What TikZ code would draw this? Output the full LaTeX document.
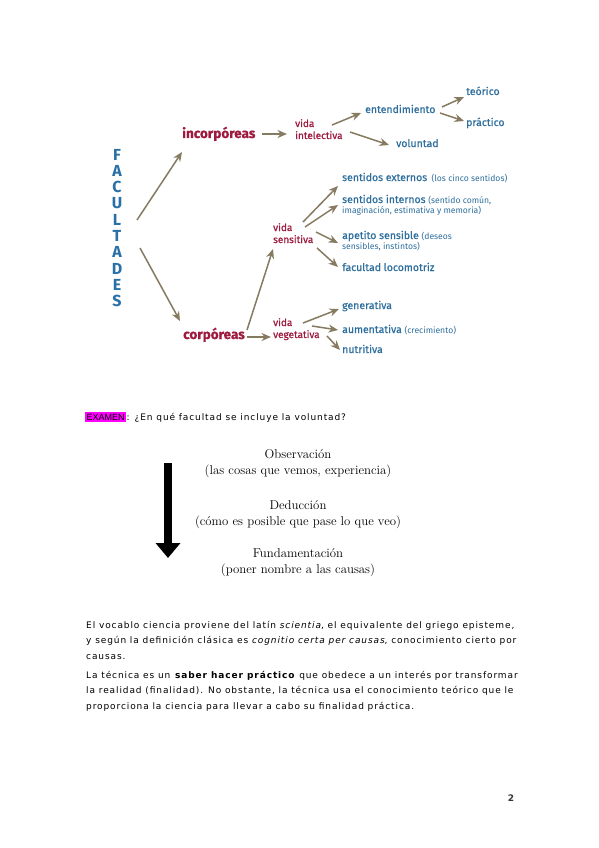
\documentclass[tikz,border=0pt]{standalone}
\usepackage{fontspec}
\usetikzlibrary{arrows.meta}
\newfontfamily\diag{Fira Sans}[FakeBold=0.6]
\newfontfamily\diagl{Fira Sans}
\newfontfamily\bodyf{DejaVu Sans}[LetterSpace=10]
\newfontfamily\arialf{Liberation Sans}
\newfontfamily\pagef{DejaVu Sans}
\definecolor{arrc}{RGB}{134,122,96}
\definecolor{redc}{RGB}{158,26,62}
\definecolor{bluc}{RGB}{46,111,158}
\definecolor{facc}{RGB}{40,112,168}
\definecolor{magc}{RGB}{255,0,255}
\newcommand{\paren}[1]{{\diagl\fontsize{8.6}{10}\selectfont #1}}
\tikzset{
  arr/.style={draw=arrc, line width=1.5pt, -{Stealth[length=9.5pt,width=8pt]}},
  rlab/.style={text=redc, font=\diag\fontsize{10}{12}\selectfont, align=left, inner sep=0pt, anchor=base west},
  rbig/.style={text=redc, font=\diag\bfseries\fontsize{13.5}{14}\selectfont, inner sep=0pt, anchor=base west},
  blab/.style={text=bluc, font=\diag\fontsize{10.5}{10}\selectfont, align=left, inner sep=0pt, anchor=base west},
  fac/.style={text=facc, font=\diagl\bfseries\fontsize{16}{16}\selectfont, inner sep=0pt, anchor=base},
  ser/.style={font=\rmfamily\fontsize{12.8}{16}\selectfont, inner sep=0pt, anchor=base},
  body/.style={font=\bodyf\fontsize{9}{15.5}\selectfont, align=left, inner sep=0pt, anchor=base west}
}
\begin{document}
\begin{tikzpicture}[x=1pt,y=-1pt]
\useasboundingbox[fill=white] (0,0) rectangle (599,848);
% FACULTADES
\foreach \l [count=\i from 0] in {F,A,C,U,L,T,A,D,E,S}{
  \node[fac] (f\i) at (117,160+16.3*\i) {\l};
}
% level 1
\node[rbig] (inc) at (182,138) {incorpóreas};
\node[rbig] (cor) at (183,339) {corpóreas};
% level 2 (base = last line)
\node[rlab] (vint) at (295,139) {vida\\intelectiva};
\node[rlab] (vsen) at (273,243) {vida\\sensitiva};
\node[rlab] (vveg) at (273,338) {vida\\vegetativa};
% intelectiva branches
\node[blab] (ent) at (365,113) {entendimiento};
\node[blab] (vol) at (396,147) {voluntad};
\node[blab] (teo) at (466,95) {teórico};
\node[blab] (pra) at (466,126) {práctico};
% sensitiva branches
\node[blab] (sext) at (342,181) {sentidos externos \,\paren{(los cinco sentidos)}};
\node[blab] (sint) at (342,213) {sentidos internos \paren{(sentido común,}\\\paren{imaginación, estimativa y memoria)}};
\node[blab] (ape) at (342,249) {apetito sensible \paren{(deseos}\\\paren{sensibles, instintos)}};
\node[blab] (loc) at (342,271) {facultad locomotriz};
% vegetativa branches
\node[blab] (gen) at (342,309) {generativa};
\node[blab] (aum) at (342,333) {aumentativa \paren{(crecimiento)}};
\node[blab] (nut) at (342,353) {nutritiva};
% coordinates for arrows
\coordinate (a1s) at (137,220); \coordinate (a1e) at (182,152);
\coordinate (a2s) at (140,248); \coordinate (a2e) at (180,321);
\coordinate (a3s) at (262,134); \coordinate (a3e) at (287,134);
\coordinate (a4s) at (247,330); \coordinate (a4e) at (273,249);
\coordinate (a5s) at (247,337); \coordinate (a5e) at (271,337);
\coordinate (b1s) at (332,125); \coordinate (b1e) at (361,113);
\coordinate (b2s) at (350,132); \coordinate (b2e) at (389,145);
\coordinate (b3s) at (442,107); \coordinate (b3e) at (464,97);
\coordinate (b4s) at (440,113); \coordinate (b4e) at (464,121);
\coordinate (c1s) at (303,222); \coordinate (c1e) at (338,186);
\coordinate (c2s) at (305,227); \coordinate (c2e) at (338,205);
\coordinate (c3s) at (316,232); \coordinate (c3e) at (338,243);
\coordinate (c4s) at (317,248); \coordinate (c4e) at (338,267);
\coordinate (d1s) at (303,323); \coordinate (d1e) at (339,309);
\coordinate (d2s) at (312,326); \coordinate (d2e) at (338,330);
\coordinate (d3s) at (327,336); \coordinate (d3e) at (340,350);
\foreach \s in {a1,a2,a3,a4,a5,b1,b2,b3,b4,c1,c2,c3,c4,d1,d2,d3}{
  \draw[arr] (\s s) -- (\s e);
}
% EXAMEN
\node[fill=magc, inner xsep=1.5pt, inner ysep=1.5pt, anchor=base west, font=\arialf\fontsize{9}{10}\selectfont] (exa) at (85,420) {EXAMEN};
\node[body, anchor=base west] (preg) at (exa.base east) {: ¿En qué facultad se incluye la voluntad?};
% serif block
\node[ser] (obs) at (298,458) {Observación};
\node[ser] (obs2) at (298,474) {(las cosas que vemos, experiencia)};
\node[ser] (ded) at (298,509) {Deducción};
\node[ser] (ded2) at (298,525) {(cómo es posible que pase lo que veo)};
\node[ser] (fun) at (298,557) {Fundamentación};
\node[ser] (fun2) at (298,573) {(poner nombre a las causas)};
\coordinate (bas) at (168,463);
\coordinate (bae) at (168,558);
\draw[line width=8pt, -{Triangle[length=15pt,width=24pt]}] (bas) -- (bae);
% body paragraphs (base = last line)
\node[body] (p1) at (86,659) {El vocablo ciencia proviene del latín \textit{scientia}, el equivalente del griego episteme,\\y según la definición clásica es \textit{cognitio certa per causas}, conocimiento cierto por\\causas.};
\node[body] (p2) at (86,709) {La técnica es un \textbf{saber hacer práctico} que obedece a un interés por transformar\\la realidad (finalidad). No obstante, la técnica usa el conocimiento teórico que le\\proporciona la ciencia para llevar a cabo su finalidad práctica.};
\node[font=\pagef\bfseries\fontsize{9}{10}\selectfont, text=black!80, inner sep=0pt, anchor=base] (pg) at (511,801) {2};
\end{tikzpicture}
\end{document}
